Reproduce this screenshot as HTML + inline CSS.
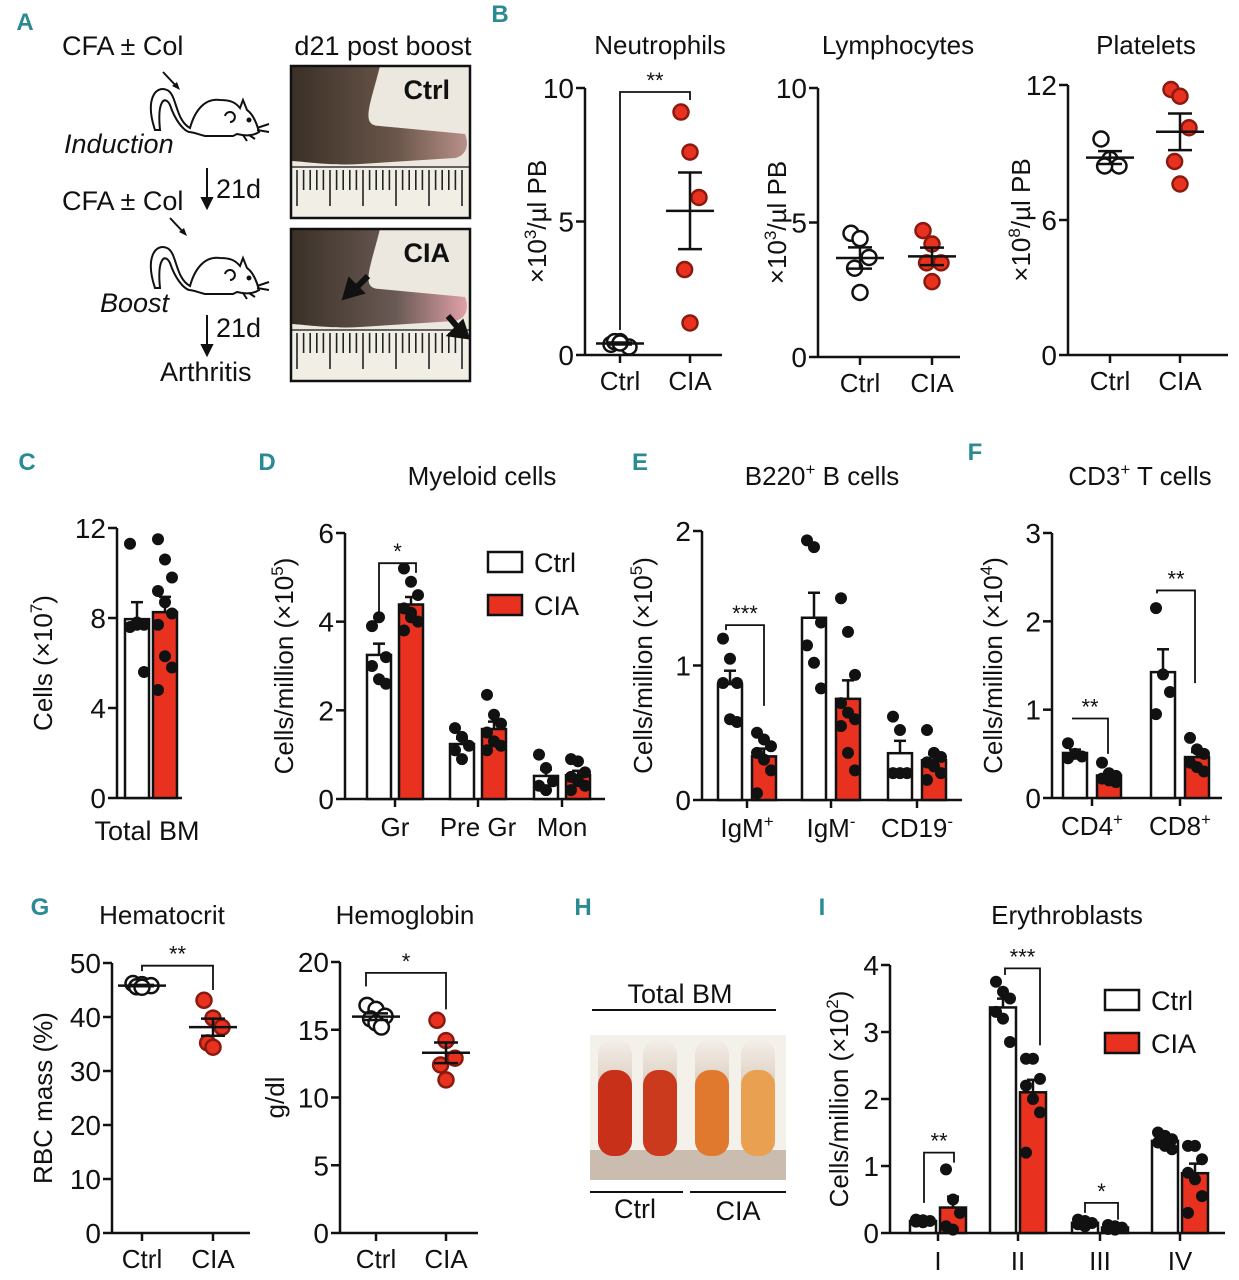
<!DOCTYPE html>
<html><head><meta charset="utf-8"><style>
html,body{margin:0;padding:0;background:#fff;}
svg{display:block;font-family:"Liberation Sans Narrow","Liberation Sans",sans-serif;}
</style></head><body>
<svg id="fig" width="1239" height="1280" viewBox="0 0 1239 1280">
<defs>
<linearGradient id="leg1" x1="0" y1="0" x2="1" y2="0"><stop offset="0" stop-color="#3a3026"/><stop offset="0.6" stop-color="#6a564a"/><stop offset="1" stop-color="#b8908a"/></linearGradient>
<linearGradient id="leg2" x1="0" y1="0" x2="1" y2="0"><stop offset="0" stop-color="#3a3026"/><stop offset="0.6" stop-color="#6a5a55"/><stop offset="1" stop-color="#e0a0a8"/></linearGradient>
<linearGradient id="tube" x1="0" y1="0" x2="0" y2="1"><stop offset="0" stop-color="#f3eee8"/><stop offset="0.5" stop-color="#d8c8b8"/><stop offset="1" stop-color="#c8b8a8"/></linearGradient>
</defs>
<g id="root"></g>
</svg>
<script>
// ---------- data ----------
const groupsCtrlCIA = ["Ctrl","CIA"];
const neutroCtrl = [0.4,0.5,0.3,0.5,0.45];
const neutroCIA = [9.1,7.6,5.9,3.2,1.2];
const lymphoCtrl = [4.6,4.4,3.7,3.3,2.4];
const lymphoCIA = [4.7,4.2,3.5,3.5,2.8];
const plateCtrl = [9.6,8.7,8.4,8.4];
const plateCIA = [11.8,11.5,10.1,8.6,7.6];
const totalBMCtrl = [11.3,7.8,7.7,7.6,7.7,5.6];
const totalBMCIA = [11.5,10.6,9.8,9.2,8.7,8.2,7.7,6.3,5.8,4.8];
const myeloidCats = ["Gr","Pre Gr","Mon"];
const myeloidCtrl = [[3.9,4.1,3.2,3.0,2.7,2.6],[1.6,1.4,1.2,1.1,0.9],[1.0,0.7,0.4,0.3,0.2]];
const myeloidCIA = [[5.2,4.9,4.6,4.3,4.2,4.0,3.8,4.1],[2.35,1.9,1.7,1.5,1.3,1.2,1.1],[0.9,0.85,0.6,0.5,0.4,0.3,0.2]];
const bcellCats = ["IgM+","IgM-","CD19-"];
const bcellCtrl = [[1.2,1.05,0.87,0.87,0.6,0.58],[1.93,1.88,1.32,1.15,1.02,0.83],[0.62,0.52,0.2,0.2,0.2]];
const bcellCIA = [[0.5,0.45,0.4,0.35,0.3,0.22,0.05],[1.5,1.25,0.93,0.72,0.65,0.6,0.55,0.35,0.22],[0.52,0.35,0.32,0.28,0.25,0.2,0.15]];
const tcellCats = ["CD4+","CD8+"];
const tcellCtrl = [[0.62,0.5,0.47,0.45],[2.15,1.4,1.2,0.95]];
const tcellCIA = [[0.4,0.28,0.25,0.22,0.2,0.18],[0.68,0.55,0.5,0.4,0.35,0.3]];
const hctCtrl = [46.2,46.0,45.8,45.6,45.5];
const hctCIA = [43.1,39.8,38.1,35.2,34.4];
const hgbCtrl = [16.8,16.5,16.0,15.8,15.5,15.2];
const hgbCIA = [15.7,14.2,12.9,12.4,11.3];
const erythCats = ["I","II","III","IV"];
const erythCtrl = [[0.2,0.19,0.18,0.17,0.16],[3.75,3.6,3.5,3.3,3.2,2.85],[0.2,0.18,0.15,0.13,0.1],[1.5,1.45,1.4,1.35,1.3,1.25]];
const erythCIA = [[0.95,0.5,0.3,0.1,0.05],[2.6,2.6,2.3,2.2,2.0,1.8,1.2],[0.12,0.1,0.08,0.06,0.05],[1.3,1.3,1.1,0.9,0.8,0.55,0.3]];

// ---------- helpers ----------
const NS="http://www.w3.org/2000/svg";
const root=document.getElementById('root');
const RED="#e8321f", DRED="#8a1a10", TEAL="#2b8a93";
function el(tag,attrs,parent,txt){const e=document.createElementNS(NS,tag);for(const k in attrs)e.setAttribute(k,attrs[k]);if(txt!==undefined)e.textContent=txt;(parent||root).appendChild(e);return e;}
function mean(a){return a.reduce((s,v)=>s+v,0)/a.length;}
function sem(a){const m=mean(a);return Math.sqrt(a.reduce((s,v)=>s+(v-m)*(v-m),0)/(a.length-1))/Math.sqrt(a.length);}
function scaleY(y0,yTop,max){return v=>y0-(v/max)*(y0-yTop);}
function text(x,y,s,size,anchor,extra){const t=el('text',Object.assign({x:x,y:y,'font-size':size,'text-anchor':anchor||'middle',fill:'#111'},extra||{}),root,s);return t;}
function panelLabel(x,y,s){const t=text(x,y,s,24,'middle',{fill:TEAL,'font-weight':'bold'});

}
function yAxis(name,x,y0,yTop,max,ticks,labelTxt,labelX){
  const g=el('g',{});
  
  
  const sy=scaleY(y0,yTop,max);
  el('line',{x1:x,x2:x,y1:sy(max),y2:y0,stroke:'#111','stroke-width':2.5},g);
  ticks.forEach(t=>{el('line',{x1:x-9,x2:x,y1:sy(t),y2:sy(t),stroke:'#111','stroke-width':2.5},g);
    el('text',{x:x-11,y:sy(t)+10,'font-size':28,'text-anchor':'end',fill:'#111'},g,String(t));});
  if(labelTxt){const cy=(y0+sy(max))/2;const t=el('text',{x:labelX,y:cy,'font-size':26,'text-anchor':'middle',fill:'#111',transform:`rotate(-90 ${labelX} ${cy})`},g);t.innerHTML=labelTxt;
    
    }
  return sy;
}
function xAxis(name,x1,x2,y0,centers,labels,ly){
  const g=el('g',{});
  
  
  el('line',{x1:x1,x2:x2,y1:y0,y2:y0,stroke:'#111','stroke-width':2.5},g);
  centers.forEach((c,i)=>{el('line',{x1:c,x2:c,y1:y0,y2:y0+8,stroke:'#111','stroke-width':2.5},g);
    const t=el('text',{x:c,y:ly||y0+35,'font-size':26,'text-anchor':'middle',fill:'#111'},g);t.innerHTML=labels[i];});
}
function title(x,y,s,name){const t=text(x,y,s,26);t.innerHTML=s;

}
function dotGroup(name,cx,vals,sy,filled,r){
  const g=el('g',{});
  
  
  vals.forEach((v,i)=>{const off=((i%3)-1)*9*(i>=3?0.6:1);
    const c=el('circle',{cx:cx+off,cy:sy(v),r:r||7.5,fill:filled===true?RED:(filled==='black'?'#111':'#fff'),stroke:filled===true?DRED:'#111','stroke-width':2.5},g);
    
    });
  return g;
}
function meanSem(cx,vals,sy,w){
  const m=mean(vals),s=sem(vals);
  el('line',{x1:cx-w,x2:cx+w,y1:sy(m),y2:sy(m),stroke:'#111','stroke-width':2.5});
  el('line',{x1:cx,x2:cx,y1:sy(m+s),y2:sy(m-s),stroke:'#111','stroke-width':2.5});
  el('line',{x1:cx-w/2,x2:cx+w/2,y1:sy(m+s),y2:sy(m+s),stroke:'#111','stroke-width':2.5});
  el('line',{x1:cx-w/2,x2:cx+w/2,y1:sy(m-s),y2:sy(m-s),stroke:'#111','stroke-width':2.5});
}
function bar(name,cx,w,vals,sy,red){
  const m=mean(vals),s=sem(vals);
  const r=el('rect',{x:cx-w/2,y:sy(m),width:w,height:sy(0)-sy(m),fill:red?RED:'#fff',stroke:'#111','stroke-width':2.5});
  
  
  el('line',{x1:cx,x2:cx,y1:sy(m),y2:sy(m+s),stroke:'#111','stroke-width':2.5});
  el('line',{x1:cx-6,x2:cx+6,y1:sy(m+s),y2:sy(m+s),stroke:'#111','stroke-width':2.5});
  const g=el('g',{});
  
  
  vals.forEach((v,i)=>{const off=((i%3)-1)*7;const c=el('circle',{cx:cx+off,cy:sy(v),r:6,fill:'#111'},g);
    
    });
}
function bracket(x1,x2,yTop,y1,y2,star,name){
  const p=el('path',{d:`M${x1} ${y1} V${yTop} H${x2} V${y2}`,fill:'none',stroke:'#111','stroke-width':1.8});
  
  
  const t=text((x1+x2)/2,yTop-4,star,22);
  
  
}
function legend(x,y,name){
  [[false,'Ctrl'],[true,'CIA']].forEach((d,i)=>{
    const r=el('rect',{x:x,y:y+i*43-10,width:34,height:20,fill:d[0]?RED:'#fff',stroke:'#111','stroke-width':2.5});
    
    
    const t=text(x+46,y+i*43+10,d[1],27,'start');
    
    });
}

// ---------- Panel A ----------
panelLabel(25,30,'A');
function mouse(x,y,name){
  const g=el('g',{transform:`translate(${x},${y})`,fill:'none',stroke:'#111','stroke-width':2});
  
  
  el('path',{d:'M10 50 C0 20 10 5 22 10 C32 14 30 40 45 48 C50 30 60 18 75 20 C85 20 90 22 95 28 L98 20 L102 30 C108 34 112 44 114 52 C108 56 100 56 92 54 L88 56 L60 56 C52 54 48 52 44 52 C38 50 30 40 25 25 C20 15 12 20 15 50 Z'},g);
  el('path',{d:'M80 36 a5 5 0 1 1 5 6'},g);
  el('circle',{cx:104,cy:40,r:1.5,fill:'#111'},g);
  el('path',{d:'M112 48 l12 -4 M112 50 l12 2 M98 55 l4 6 M104 55 l6 4'},g);
}
[['CFA ± Col',62,55],['CFA ± Col',62,210]].forEach((d,i)=>{const t=text(d[1],d[2],d[0],27,'start');
  
  });
mouse(145,80,'mouse-induction');
mouse(145,238,'mouse-boost');
el('path',{d:'M163 72 L178 88',stroke:'#111','stroke-width':2,fill:'none'});
el('path',{d:'M172 86 l8 4 l-3 -8 z',fill:'#111'});
el('path',{d:'M170 218 L185 234',stroke:'#111','stroke-width':2,fill:'none'});
el('path',{d:'M179 232 l8 4 l-3 -8 z',fill:'#111'});
{const t=text(64,153,'Induction',27,'start',{'font-style':'italic'});}
{const t=text(100,312,'Boost',27,'start',{'font-style':'italic'});}
el('path',{d:'M207 168 V205 M202 198 l5 10 l5 -10 z',stroke:'#111','stroke-width':2,fill:'#111'});
el('path',{d:'M207 315 V352 M202 345 l5 10 l5 -10 z',stroke:'#111','stroke-width':2,fill:'#111'});
{const t=text(216,198,'21d',27,'start');}
{const t=text(216,337,'21d',27,'start');}
{const t=text(160,381,'Arthritis',27,'start');}
{const t=text(383,55,'d21 post boost',27);}
function photo(y,label,grad,name){
  const g=el('g',{});
  
  
  el('rect',{x:291,y:y,width:179,height:152,fill:'#ece8df'},g);
  el('path',{d:`M291 ${y} H380 C370 ${y+40} 360 ${y+60} 380 ${y+60} L465 ${y+68} C470 ${y+80} 465 ${y+90} 455 ${y+92} L360 ${y+98} C330 ${y+100} 300 ${y+95} 291 ${y+95} Z`,fill:`url(#${grad})`},g);
  el('rect',{x:291,y:y+100,width:179,height:52,fill:'#f1eee6'},g);
  el('line',{x1:291,x2:470,y1:y+101,y2:y+101,stroke:'#333','stroke-width':1.5},g);
  for(let i=0;i<26;i++){const xx=297+i*6.6;el('line',{x1:xx,x2:xx,y1:y+104,y2:y+(i%5==0?140:124),stroke:'#222','stroke-width':1.6},g);}
  el('rect',{x:291,y:y,width:179,height:152,fill:'none',stroke:'#111','stroke-width':2.5},g);
  el('text',{x:450,y:y+33,'font-size':27,'font-weight':'bold','text-anchor':'end',fill:'#111'},g,label);
}
photo(66,'Ctrl','leg1','photo-ctrl');
photo(229,'CIA','leg2','photo-cia');
el('path',{d:'M368 276 L352 292 M346 296 l4 -14 l10 10 z',stroke:'#111','stroke-width':6,fill:'#111'});
el('path',{d:'M448 316 L460 330 M466 336 l-14 -2 l10 -10 z',stroke:'#111','stroke-width':6,fill:'#111'});

// ---------- Panel B ----------
panelLabel(500,22,'B');
function pbPanel(name,ttl,tx,ax,axEnd,y0,yTop,max,ticks,c1,c2,dCtrl,dCIA,lblx,lbl){
  title(tx,54,ttl,name+'-title');
  const sy=yAxis(name,ax,y0,yTop,max,ticks,lbl,lblx);
  xAxis(name,ax,axEnd,y0,[c1,c2],groupsCtrlCIA,y0+35);
  dotGroup(name+'-ctrl-points',c1,dCtrl,sy,false);
  dotGroup(name+'-cia-points',c2,dCIA,sy,true);
  meanSem(c1,dCtrl,sy,24);meanSem(c2,dCIA,sy,24);
  return sy;
}
const syN=pbPanel('neutrophils','Neutrophils',660,585,722,355,88,10,[0,5,10],620,690,neutroCtrl,neutroCIA,546,'×10<tspan dy="-10" font-size="17">3</tspan><tspan dy="10">/µl PB</tspan>');
bracket(620,690,92,330,100,'**','neutrophils-significance');
pbPanel('lymphocytes','Lymphocytes',898,818,960,357,88,10,[0,5,10],860,932,lymphoCtrl,lymphoCIA,786,'×10<tspan dy="-10" font-size="17">3</tspan><tspan dy="10">/µl PB</tspan>');
pbPanel('platelets','Platelets',1146,1068,1228,355,85,12,[0,6,12],1110,1180,plateCtrl,plateCIA,1030,'×10<tspan dy="-10" font-size="17">8</tspan><tspan dy="10">/µl PB</tspan>');

// ---------- Panel C ----------
panelLabel(27,470,'C');
{const sy=yAxis('total-bm',117,798,528,12,[0,4,8,12],'Cells (×10<tspan dy="-10" font-size="17">7</tspan><tspan dy="10">)</tspan>',52);
xAxis('total-bm',117,182,798,[],[]);
{const t=text(147,840,'Total BM',27);}
bar('total-bm-ctrl-bar',137,24,totalBMCtrl,sy,false);
bar('total-bm-cia-bar',165,24,totalBMCIA,sy,true);}

// ---------- Panel D ----------
panelLabel(267,470,'D');
title(482,485,'Myeloid cells','myeloid-title');
function groupedBars(name,ax,axEnd,y0,yTop,max,ticks,cats,centers,dC,dI,lbl,lblx,bw,gap){
  const sy=yAxis(name,ax,y0,yTop,max,ticks,lbl,lblx);
  xAxis(name,ax,axEnd,y0,centers,cats.map(c=>c.replace(/([+-])$/,'<tspan dy="-10" font-size="17">$1</tspan>')),y0+37);
  cats.forEach((c,i)=>{bar(name+'-'+c.toLowerCase().replace(/[^a-z0-9]+/g,'')+'-ctrl-bar',centers[i]-bw/2-gap,bw,dC[i],sy,false);
    bar(name+'-'+c.toLowerCase().replace(/[^a-z0-9]+/g,'')+'-cia-bar',centers[i]+bw/2+gap,bw,dI[i],sy,true);});
  return sy;
}
const syD=groupedBars('myeloid',345,605,799,533,6,[0,2,4,6],myeloidCats,[395,478,562],myeloidCtrl,myeloidCIA,'Cells/million (×10<tspan dy="-10" font-size="17">5</tspan><tspan dy="10">)</tspan>',293,24,4);
bracket(379,416,syD(5.5)+8,syD(4.2),syD(5.1),'*','myeloid-gr-significance');
legend(488,562,'myeloid-legend');

// ---------- Panel E ----------
panelLabel(640,470,'E');
title(822,485,'B220<tspan dy="-10" font-size="17">+</tspan><tspan dy="10"> B cells</tspan>','bcell-title');
const syE=groupedBars('bcell',702,962,800,531,2,[0,1,2],bcellCats,[747,831,917],bcellCtrl,bcellCIA,'Cells/million (×10<tspan dy="-10" font-size="17">5</tspan><tspan dy="10">)</tspan>',652,24,5);
bracket(726,764,syE(1.3),syE(1.3)+5,syE(0.7),'***','bcell-igm-significance');

// ---------- Panel F ----------
panelLabel(975,460,'F');
title(1140,485,'CD3<tspan dy="-10" font-size="17">+</tspan><tspan dy="10"> T cells</tspan>','tcell-title');
const syF=groupedBars('tcell',1052,1222,798,533,3,[0,1,2,3],tcellCats,[1092,1180],tcellCtrl,tcellCIA,'Cells/million (×10<tspan dy="-10" font-size="17">4</tspan><tspan dy="10">)</tspan>',1002,24,5);
bracket(1072,1108,syF(0.9),syF(0.9),syF(0.5),'**','tcell-cd4-significance');
bracket(1157,1195,syF(2.35),syF(2.35)+3,syF(1.3),'**','tcell-cd8-significance');

// ---------- Panel G ----------
panelLabel(40,915,'G');
title(162,924,'Hematocrit','hematocrit-title');
{const sy=yAxis('hematocrit',112,1233,963,50,[0,10,20,30,40,50],'RBC mass (%)',52);
xAxis('hematocrit',112,250,1233,[142,213],groupsCtrlCIA,1268);
dotGroup('hematocrit-ctrl-points',142,hctCtrl,sy,false);dotGroup('hematocrit-cia-points',213,hctCIA,sy,true);
meanSem(142,hctCtrl,sy,24);meanSem(213,hctCIA,sy,24);
bracket(142,213,sy(49.5),sy(48.5),sy(45),'**','hematocrit-significance');}
title(405,924,'Hemoglobin','hemoglobin-title');
{const sy=yAxis('hemoglobin',340,1233,962,20,[0,5,10,15,20],'g/dl',284);
xAxis('hemoglobin',340,478,1233,[376,446],groupsCtrlCIA,1268);
dotGroup('hemoglobin-ctrl-points',376,hgbCtrl,sy,false);dotGroup('hemoglobin-cia-points',446,hgbCIA,sy,true);
meanSem(376,hgbCtrl,sy,24);meanSem(446,hgbCIA,sy,24);
bracket(366,446,sy(19.2),sy(18.2),sy(16.5),'*','hemoglobin-significance');}

// ---------- Panel H ----------
panelLabel(583,915,'H');
{const t=text(680,1003,'Total BM',27);}
el('line',{x1:592,x2:776,y1:1010,y2:1010,stroke:'#111','stroke-width':2});
{const g=el('g',{});
el('rect',{x:590,y:1035,width:196,height:145,fill:'#f4f0ea'},g);
el('rect',{x:590,y:1150,width:196,height:30,fill:'#cbbcb0'},g);
const cols=['#c8301a','#cc3a1e','#e0792e','#e9a050'];
[615,660,712,758].forEach((x,i)=>{
  el('rect',{x:x-17,y:1040,width:34,height:110,rx:14,fill:'url(#tube)'},g);
  el('rect',{x:x-17,y:1070,width:34,height:86,rx:15,fill:cols[i]},g);});}
el('line',{x1:590,x2:683,y1:1192,y2:1192,stroke:'#111','stroke-width':2});
el('line',{x1:690,x2:786,y1:1192,y2:1192,stroke:'#111','stroke-width':2});
{const t=text(635,1218,'Ctrl',27);}
{const t=text(738,1220,'CIA',27);}

// ---------- Panel I ----------
panelLabel(822,915,'I');
title(1067,924,'Erythroblasts','erythroblasts-title');
const syI=groupedBars('erythroblasts',890,1225,1233,965,4,[0,1,2,3,4],erythCats,[938,1018,1100,1180],erythCtrl,erythCIA,'Cells/million (×10<tspan dy="-10" font-size="17">2</tspan><tspan dy="10">)</tspan>',848,26,2);
bracket(924,954,syI(1.2),syI(0.45),syI(1.05),'**','erythroblasts-i-significance');
bracket(1005,1040,syI(3.95),syI(3.85),syI(2.8),'***','erythroblasts-ii-significance');
bracket(1085,1118,syI(0.45),syI(0.3),syI(0.2),'*','erythroblasts-iii-significance');
legend(1105,1000,'erythroblasts-legend');
</script>
</body></html>
